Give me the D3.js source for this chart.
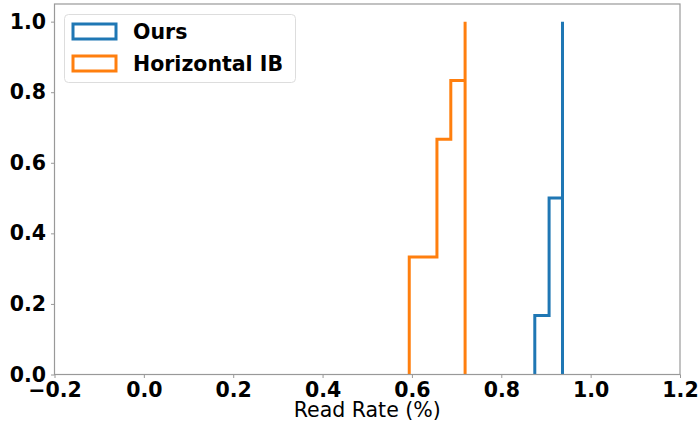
<!DOCTYPE html>
<html>
<head>
<meta charset="utf-8">
<script src="https://cdn.jsdelivr.net/npm/d3@7"></script>
<style>
  body { margin: 0; background: #fff; }
  svg { display: block; }
  text { font-family: "DejaVu Sans", sans-serif; }
</style>
</head>
<body>
<div id="vis"></div>
<script>
const WIDTH = 700;
const HEIGHT = 423;
const MARGINS = {left: 54.5, right: 20, top: 4, bottom: 48.5};

const VIS_WIDTH = WIDTH - MARGINS.left - MARGINS.right;
const VIS_HEIGHT = HEIGHT - MARGINS.top - MARGINS.bottom;

// step edges (left edge of each bin) and cumulative fraction
const SERIES_NAMES = ["Ours", "Horizontal IB"];
const SERIES_COLORS = ["#1f77b4", "#ff7f0e"];
const OURS_EDGES = [0.875, 0.907, 0.937];
const OURS_VALUES = [0.167, 0.5, 1.0];
const HIB_EDGES = [0.594, 0.656, 0.687, 0.719];
const HIB_VALUES = [0.333, 0.667, 0.833, 1.0];

const X_TICKS = [-0.2, 0.0, 0.2, 0.4, 0.6, 0.8, 1.0, 1.2];
const Y_TICKS = [0.0, 0.2, 0.4, 0.6, 0.8, 1.0];

const FRAME = d3.select("#vis")
  .append("svg")
    .attr("width", WIDTH)
    .attr("height", HEIGHT);

const X_SCALE = d3.scaleLinear().domain([-0.2, 1.2]).range([0, VIS_WIDTH]);
const Y_SCALE = d3.scaleLinear().domain([0, 1.05]).range([VIS_HEIGHT, 0]);

const g = FRAME.append("g")
  .attr("transform", `translate(${MARGINS.left},${MARGINS.top})`);

// step outline: up from 0, across each bin, down to 0 at the end
function stepPath(edges, values) {
  const pts = [[edges[0], 0]];
  edges.forEach((e, i) => {
    pts.push([e, values[i]]);
    const next = i + 1 < edges.length ? edges[i + 1] : e;
    pts.push([next, values[i]]);
  });
  pts.push([edges[edges.length - 1], 0]);
  return d3.line()
    .x(d => X_SCALE(d[0]))
    .y(d => Y_SCALE(d[1]))(pts);
}

const DATA = [
  {name: SERIES_NAMES[0], edges: OURS_EDGES, values: OURS_VALUES, color: SERIES_COLORS[0]},
  {name: SERIES_NAMES[1], edges: HIB_EDGES, values: HIB_VALUES, color: SERIES_COLORS[1]}
];

g.selectAll(".step")
  .data(DATA)
  .enter()
  .append("path")
    .attr("class", "step")
    .attr("d", d => stepPath(d.edges, d.values))
    .attr("fill", "none")
    .attr("stroke", d => d.color)
    .attr("stroke-width", 3)
    .attr("stroke-linejoin", "miter");

// axes
const xAxis = g.append("g")
  .attr("transform", `translate(0,${VIS_HEIGHT})`)
  .call(d3.axisBottom(X_SCALE).tickValues(X_TICKS)
    .tickFormat(d => d3.format(".1f")(d).replace("-", "\u2212"))
    .tickSize(3.5).tickPadding(4));

const yAxis = g.append("g")
  .call(d3.axisLeft(Y_SCALE).tickValues(Y_TICKS)
    .tickFormat(d3.format(".1f"))
    .tickSize(3.5).tickPadding(5));

[xAxis, yAxis].forEach(a => {
  a.select(".domain").remove();
  a.selectAll(".tick line").attr("stroke", "#999").attr("stroke-width", 1);
  a.selectAll(".tick text")
    .attr("fill", "#000")
    .style("font-size", "20.5px")
    .style("font-weight", "bold");
});

// spines
g.append("rect")
  .attr("x", 0).attr("y", 0)
  .attr("width", VIS_WIDTH).attr("height", VIS_HEIGHT)
  .attr("fill", "none")
  .attr("stroke", "#999")
  .attr("stroke-width", 1.2);

// x label
FRAME.append("text")
  .attr("x", MARGINS.left + VIS_WIDTH / 2)
  .attr("y", 417)
  .attr("text-anchor", "middle")
  .style("font-size", "20.5px")
  .text("Read Rate (%)");

// legend
const legend = FRAME.append("g").attr("transform", "translate(64.5,14.5)");
legend.append("rect")
  .attr("width", 231).attr("height", 68)
  .attr("rx", 4)
  .attr("fill", "#fff")
  .attr("fill-opacity", 0.8)
  .attr("stroke", "#ddd");

const items = legend.selectAll(".item")
  .data(DATA)
  .enter()
  .append("g")
    .attr("transform", (d, i) => `translate(0,${i * 32})`);

items.append("rect")
  .attr("x", 8.5).attr("y", 9.5)
  .attr("width", 43).attr("height", 15)
  .attr("fill", "none")
  .attr("stroke", d => d.color)
  .attr("stroke-width", 3);

items.append("text")
  .attr("x", 68.5).attr("y", 24)
  .style("font-size", "20.5px")
  .style("font-weight", "bold")
  .text(d => d.name);
</script>
</body>
</html>
